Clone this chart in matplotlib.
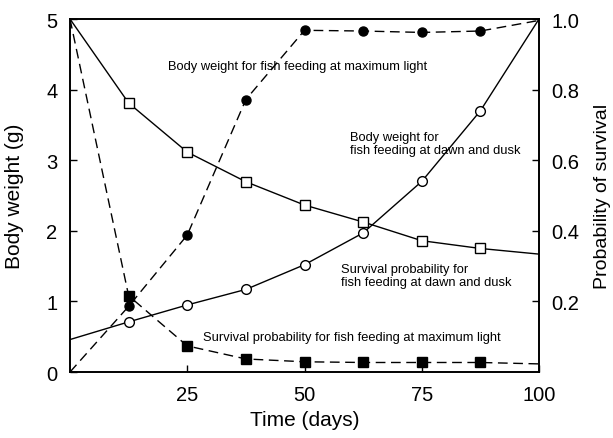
import numpy as np
import matplotlib.pyplot as plt

plt.rcParams['font.family'] = ['Liberation Sans', 'DejaVu Sans']

# data
days = [0, 12.5, 25, 37.5, 50, 62.5, 75, 87.5, 100]
weight_max_light = [0.0, 0.93, 1.94, 3.86, 4.84, 4.83, 4.81, 4.83, 4.98]
weight_dawn_dusk = [0.46, 0.71, 0.95, 1.17, 1.52, 1.97, 2.70, 3.70, 5.0]
surv_dawn_dusk = [1.0, 0.762, 0.623, 0.539, 0.473, 0.425, 0.372, 0.350, 0.334]
surv_max_light = [1.0, 0.216, 0.074, 0.037, 0.029, 0.027, 0.027, 0.027, 0.023]

fig = plt.figure(figsize=(6.13, 4.39), dpi=100)
ax = fig.add_axes([0.1142, 0.1503, 0.7651, 0.8041])
ax2 = ax.twinx()

dash = (0, (7, 4))
inner = list(range(1, 8))
# body weight, left axis
ax.plot(days, weight_max_light, color='k', lw=1, linestyle=dash,
        marker='o', markersize=6.5, markerfacecolor='k', markevery=inner)
ax.plot(days, weight_dawn_dusk, color='k', lw=1, marker='o', markersize=7,
        markerfacecolor='white', markeredgewidth=1, markevery=inner)

# survival, right axis
ax2.plot(days, surv_dawn_dusk, color='k', lw=1, marker='s', markersize=7.5,
         markerfacecolor='white', markeredgewidth=1, markevery=inner)
ax2.plot(days, surv_max_light, color='k', lw=1, linestyle=dash, marker='s',
         markersize=7.5, markerfacecolor='k', markevery=inner)

ax.set_xlim(0, 100)
ax.set_ylim(0, 5)
ax2.set_ylim(0, 1)
ax.set_xticks([25, 50, 75, 100])
ax.set_yticks([0, 1, 2, 3, 4, 5])
ax2.set_yticks([0.2, 0.4, 0.6, 0.8, 1.0])
ax2.set_yticklabels(['0.2', '0.4', '0.6', '0.8', '1.0'])

for a in (ax, ax2):
    a.tick_params(direction='in', length=5, width=1, labelsize=14.5, pad=9)
    for s in a.spines.values():
        s.set_linewidth(1.2)

ax.set_xlabel('Time (days)', fontsize=15, labelpad=5)
ax.set_ylabel('Body weight (g)', fontsize=15)
ax.yaxis.set_label_coords(-0.098, 0.5)
ax2.set_ylabel('Probability of survival', fontsize=14, rotation=90)
ax2.yaxis.set_label_coords(1.117, 0.5)

ts = 9.3
ax.text(20.9, 4.33, 'Body weight for fish feeding at maximum light', fontsize=ts, va='center')
ax.text(59.7, 3.24, 'Body weight for\nfish feeding at dawn and dusk', fontsize=ts,
        va='center', linespacing=1.15)
ax.text(57.8, 1.37, 'Survival probability for\nfish feeding at dawn and dusk', fontsize=ts,
        va='center', linespacing=1.15)
ax.text(28.4, 0.50, 'Survival probability for fish feeding at maximum light', fontsize=ts,
        va='center')

fig.savefig('out.png', dpi=100)
